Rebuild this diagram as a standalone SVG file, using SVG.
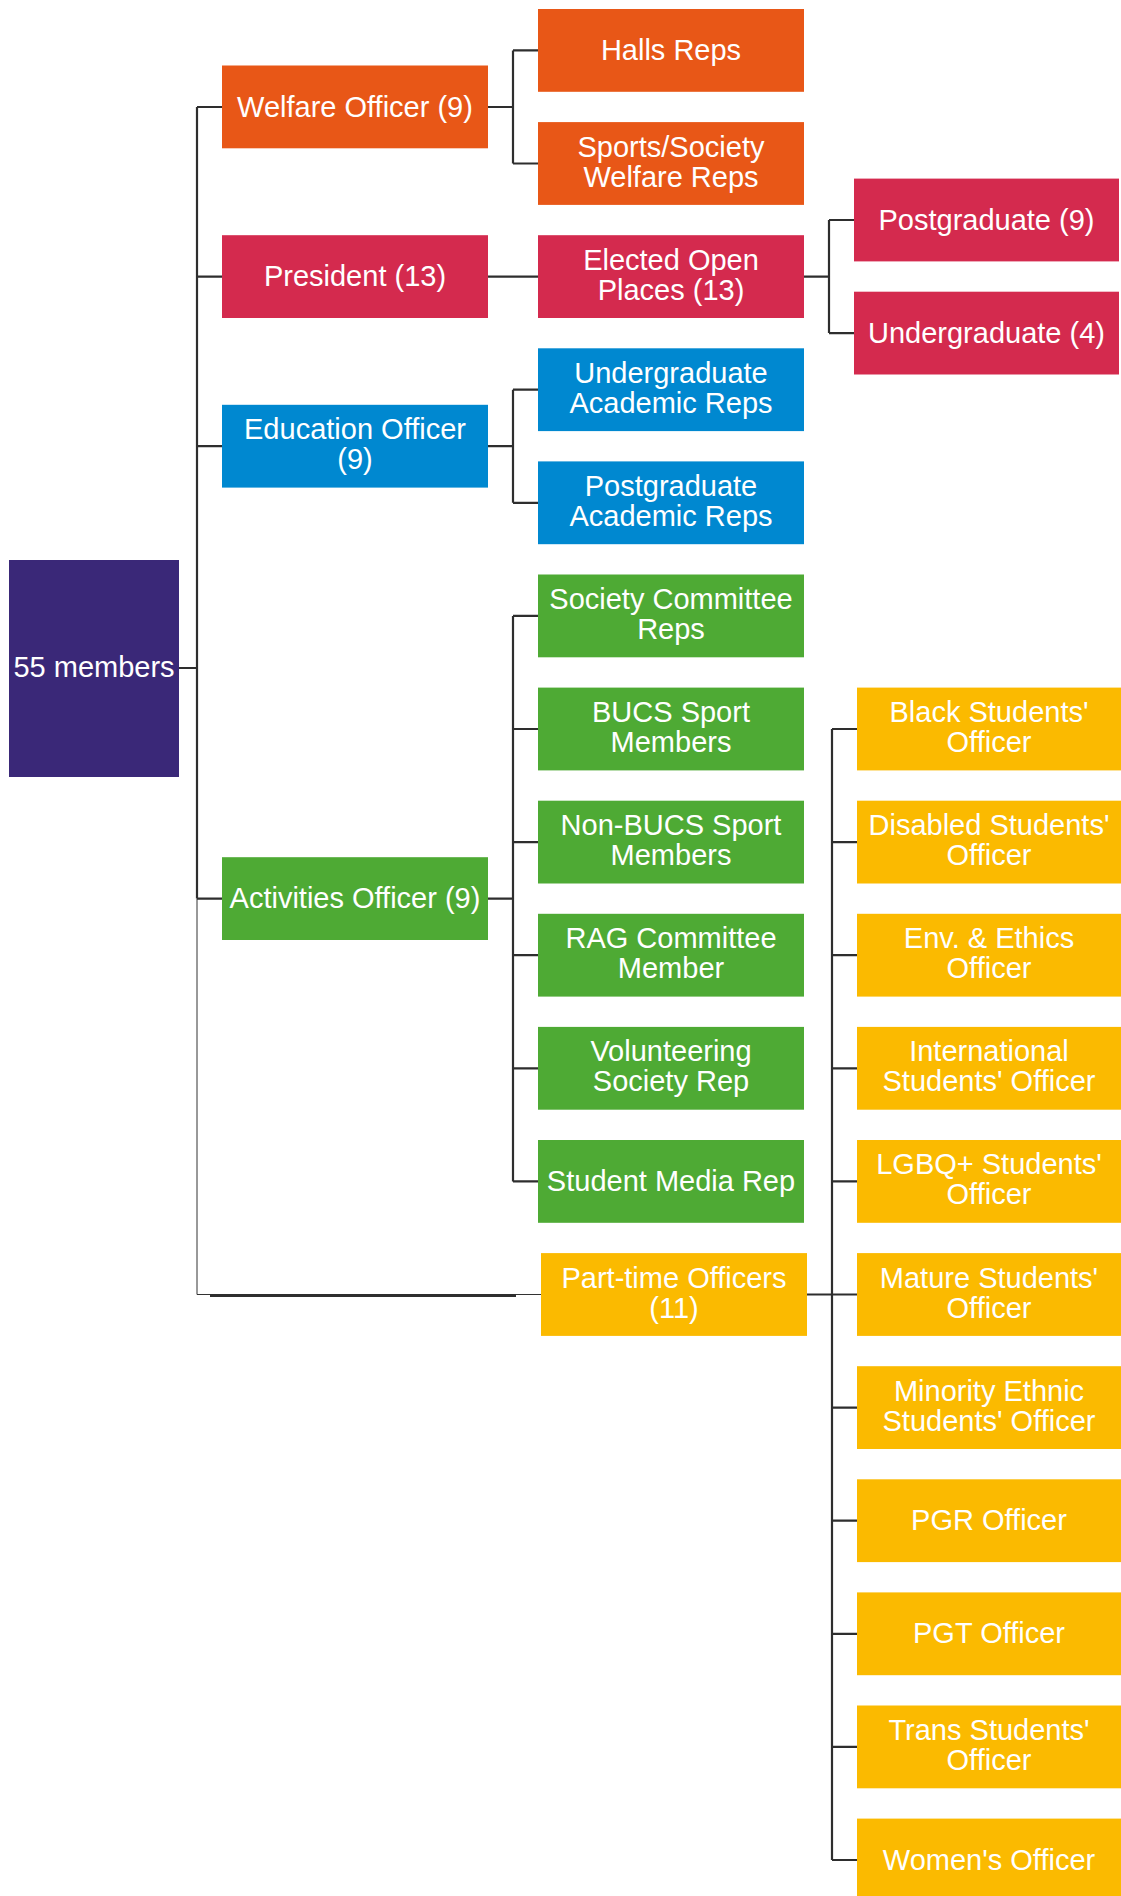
<svg xmlns="http://www.w3.org/2000/svg" width="1121" height="1896" viewBox="0 0 1121 1896">
<style>
text{font-family:"Liberation Sans",Arial,sans-serif;font-size:29px;fill:#ffffff;text-anchor:middle}
.c{stroke:#2e2e2e;stroke-width:2.2;fill:none}
.t{stroke:#333333;stroke-width:1;fill:none}
.o{fill:#E85717}.r{fill:#D42A4E}.b{fill:#0088D0}.g{fill:#4EAA34}.y{fill:#FBBA00}.p{fill:#3A2878}
</style>
<rect width="1121" height="1896" fill="#ffffff"/>
<g id="connectors">
<path class="c" d="M179 668H197M197 107V898.6M197 107H222M197 276.6H222M197 446.2H222M197 898.6H222"/>
<path class="t" d="M197 898.6V1294.5H541"/>
<path d="M210 1295.5H516" stroke="#2e2e2e" stroke-width="3" fill="none"/>
<path class="c" d="M488 107H513M513 50.4V163.5M513 50.4H538M513 163.5H538"/>
<path class="c" d="M488 276.6H538"/>
<path class="c" d="M488 446.2H513M513 389.7V502.8M513 389.7H538M513 502.8H538"/>
<path class="c" d="M488 898.6H513M513 615.9V1181.4M513 615.9H538M513 729H538M513 842.1H538M513 955.2H538M513 1068.3H538M513 1181.4H538"/>
<path class="c" d="M804 276.6H829M829 220V333.1M829 220H854M829 333.1H854"/>
<path class="c" d="M807 1294.5H832M832 729V1860M832 729H857M832 842.1H857M832 955.2H857M832 1068.3H857M832 1181.4H857M832 1294.5H857M832 1407.6H857M832 1520.7H857M832 1633.8H857M832 1746.9H857M832 1860H857"/>
</g>
<g id="root"><rect class="p" x="9" y="560" width="170" height="217"/><text x="94" y="677">55 members</text></g>
<g id="welfare"><rect class="o" x="222" y="65.5" width="266" height="82.8"/><text x="355" y="116.5">Welfare Officer (9)</text></g>
<g id="president"><rect class="r" x="222" y="235.2" width="266" height="82.8"/><text x="355" y="286">President (13)</text></g>
<g id="education"><rect class="b" x="222" y="404.8" width="266" height="82.8"/><text x="355" y="439">Education Officer</text><text x="355" y="469">(9)</text></g>
<g id="activities"><rect class="g" x="222" y="857.2" width="266" height="82.8"/><text x="355" y="908">Activities Officer (9)</text></g>
<g id="halls"><rect class="o" x="538" y="9" width="266" height="82.8"/><text x="671" y="60">Halls Reps</text></g>
<g id="sports-welfare"><rect class="o" x="538" y="122.1" width="266" height="82.8"/><text x="671" y="156.5">Sports/Society</text><text x="671" y="186.5">Welfare Reps</text></g>
<g id="elected"><rect class="r" x="538" y="235.2" width="266" height="82.8"/><text x="671" y="269.6">Elected Open</text><text x="671" y="299.6">Places (13)</text></g>
<g id="ug-academic"><rect class="b" x="538" y="348.3" width="266" height="82.8"/><text x="671" y="382.7">Undergraduate</text><text x="671" y="412.7">Academic Reps</text></g>
<g id="pg-academic"><rect class="b" x="538" y="461.4" width="266" height="82.8"/><text x="671" y="495.8">Postgraduate</text><text x="671" y="525.8">Academic Reps</text></g>
<g id="society"><rect class="g" x="538" y="574.5" width="266" height="82.8"/><text x="671" y="608.9">Society Committee</text><text x="671" y="638.9">Reps</text></g>
<g id="bucs"><rect class="g" x="538" y="687.6" width="266" height="82.8"/><text x="671" y="722">BUCS Sport</text><text x="671" y="752">Members</text></g>
<g id="non-bucs"><rect class="g" x="538" y="800.7" width="266" height="82.8"/><text x="671" y="835.1">Non-BUCS Sport</text><text x="671" y="865.1">Members</text></g>
<g id="rag"><rect class="g" x="538" y="913.8" width="266" height="82.8"/><text x="671" y="948.2">RAG Committee</text><text x="671" y="978.2">Member</text></g>
<g id="volunteering"><rect class="g" x="538" y="1026.9" width="266" height="82.8"/><text x="671" y="1061.3">Volunteering</text><text x="671" y="1091.3">Society Rep</text></g>
<g id="media"><rect class="g" x="538" y="1140" width="266" height="82.8"/><text x="671" y="1191">Student Media Rep</text></g>
<g id="parttime"><rect class="y" x="541" y="1253.1" width="266" height="82.8"/><text x="674" y="1287.5">Part-time Officers</text><text x="674" y="1317.5">(11)</text></g>
<g id="pg"><rect class="r" x="854" y="178.6" width="265" height="82.8"/><text x="986.5" y="229.5">Postgraduate (9)</text></g>
<g id="ug"><rect class="r" x="854" y="291.7" width="265" height="82.8"/><text x="986.5" y="342.6">Undergraduate (4)</text></g>
<g id="black"><rect class="y" x="857" y="687.6" width="264" height="82.8"/><text x="989" y="722">Black Students'</text><text x="989" y="752">Officer</text></g>
<g id="disabled"><rect class="y" x="857" y="800.7" width="264" height="82.8"/><text x="989" y="835.1">Disabled Students'</text><text x="989" y="865.1">Officer</text></g>
<g id="env"><rect class="y" x="857" y="913.8" width="264" height="82.8"/><text x="989" y="948.2">Env. &amp; Ethics</text><text x="989" y="978.2">Officer</text></g>
<g id="international"><rect class="y" x="857" y="1026.9" width="264" height="82.8"/><text x="989" y="1061.3">International</text><text x="989" y="1091.3">Students' Officer</text></g>
<g id="lgbq"><rect class="y" x="857" y="1140" width="264" height="82.8"/><text x="989" y="1174.4">LGBQ+ Students'</text><text x="989" y="1204.4">Officer</text></g>
<g id="mature"><rect class="y" x="857" y="1253.1" width="264" height="82.8"/><text x="989" y="1287.5">Mature Students'</text><text x="989" y="1317.5">Officer</text></g>
<g id="minority"><rect class="y" x="857" y="1366.2" width="264" height="82.8"/><text x="989" y="1400.6">Minority Ethnic</text><text x="989" y="1430.6">Students' Officer</text></g>
<g id="pgr"><rect class="y" x="857" y="1479.3" width="264" height="82.8"/><text x="989" y="1530.2">PGR Officer</text></g>
<g id="pgt"><rect class="y" x="857" y="1592.4" width="264" height="82.8"/><text x="989" y="1643.3">PGT Officer</text></g>
<g id="trans"><rect class="y" x="857" y="1705.5" width="264" height="82.8"/><text x="989" y="1739.9">Trans Students'</text><text x="989" y="1769.9">Officer</text></g>
<g id="women"><rect class="y" x="857" y="1818.6" width="264" height="82.8"/><text x="989" y="1869.5">Women's Officer</text></g>
</svg>
